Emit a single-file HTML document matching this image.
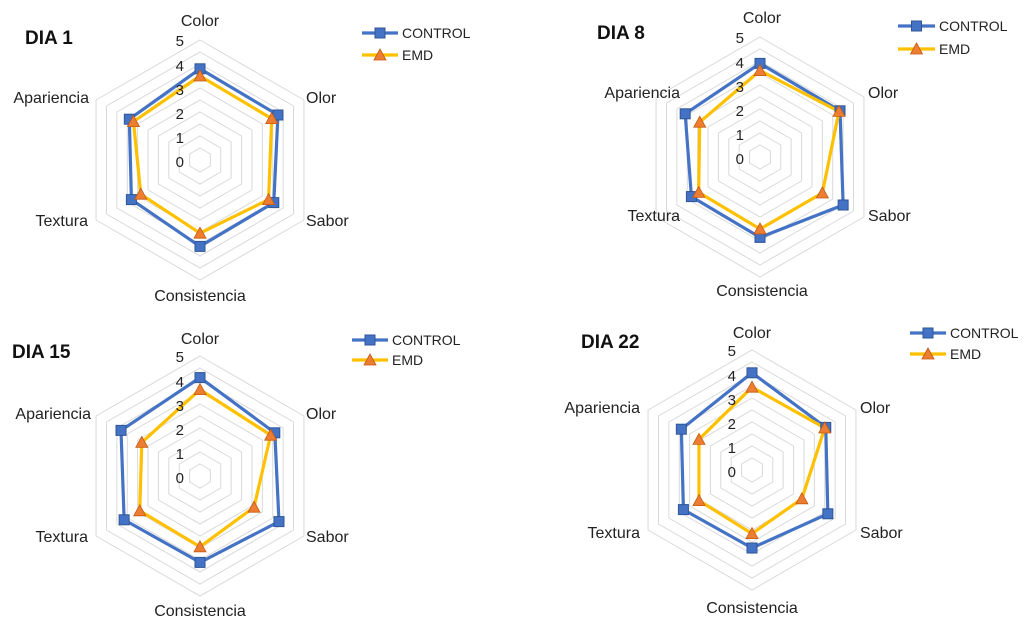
<!DOCTYPE html>
<html><head><meta charset="utf-8"><style>
body{margin:0;background:#fff;}
svg{display:block;font-family:"Liberation Sans",sans-serif;}
.ax{font-size:16px;fill:#222;}
.n{font-size:15px;fill:#222;text-anchor:end;}
.t{font-size:19px;font-weight:bold;fill:#111;}
.lg{font-size:14px;fill:#222;}
</style></head><body>
<svg id="s" width="1023" height="622" viewBox="0 0 1023 622" xmlns="http://www.w3.org/2000/svg">
<g id="g"></g>
<!-- Chart 1 -->
<text class="t" x="25" y="44">DIA 1</text>
<text class="ax" x="200" y="26" text-anchor="middle">Color</text>
<text class="ax" x="306" y="103">Olor</text>
<text class="ax" x="306" y="226">Sabor</text>
<text class="ax" x="200" y="301" text-anchor="middle">Consistencia</text>
<text class="ax" x="88" y="226" text-anchor="end">Textura</text>
<text class="ax" x="89" y="103" text-anchor="end">Apariencia</text>
<g class="nums" data-x="184" data-y="160"></g>
<text class="lg" x="402" y="38">CONTROL</text>
<text class="lg" x="402" y="60">EMD</text>
<!-- Chart 2 -->
<text class="t" x="597" y="39">DIA 8</text>
<text class="ax" x="762" y="23" text-anchor="middle">Color</text>
<text class="ax" x="868" y="98">Olor</text>
<text class="ax" x="868" y="221">Sabor</text>
<text class="ax" x="762" y="296" text-anchor="middle">Consistencia</text>
<text class="ax" x="680" y="221" text-anchor="end">Textura</text>
<text class="ax" x="680" y="98" text-anchor="end">Apariencia</text>
<text class="lg" x="939" y="31">CONTROL</text>
<text class="lg" x="939" y="54">EMD</text>
<!-- Chart 3 -->
<text class="t" x="12" y="358">DIA 15</text>
<text class="ax" x="200" y="344" text-anchor="middle">Color</text>
<text class="ax" x="306" y="419">Olor</text>
<text class="ax" x="306" y="542">Sabor</text>
<text class="ax" x="200" y="616" text-anchor="middle">Consistencia</text>
<text class="ax" x="88" y="542" text-anchor="end">Textura</text>
<text class="ax" x="91" y="419" text-anchor="end">Apariencia</text>
<text class="lg" x="392" y="345">CONTROL</text>
<text class="lg" x="392" y="365">EMD</text>
<!-- Chart 4 -->
<text class="t" x="581" y="348">DIA 22</text>
<text class="ax" x="752" y="338" text-anchor="middle">Color</text>
<text class="ax" x="860" y="413">Olor</text>
<text class="ax" x="860" y="538">Sabor</text>
<text class="ax" x="752" y="613" text-anchor="middle">Consistencia</text>
<text class="ax" x="640" y="538" text-anchor="end">Textura</text>
<text class="ax" x="640" y="413" text-anchor="end">Apariencia</text>
<text class="lg" x="950" y="338">CONTROL</text>
<text class="lg" x="950" y="359">EMD</text>
<!-- numbers -->
<g class="n">
<text x="184" y="46">5</text><text x="184" y="71">4</text><text x="184" y="95">3</text><text x="184" y="119">2</text><text x="184" y="143">1</text><text x="184" y="167">0</text>
<text x="744" y="43">5</text><text x="744" y="68">4</text><text x="744" y="92">3</text><text x="744" y="116">2</text><text x="744" y="140">1</text><text x="744" y="164">0</text>
<text x="184" y="362">5</text><text x="184" y="387">4</text><text x="184" y="411">3</text><text x="184" y="435">2</text><text x="184" y="459">1</text><text x="184" y="483">0</text>
<text x="736" y="356">5</text><text x="736" y="381">4</text><text x="736" y="405">3</text><text x="736" y="429">2</text><text x="736" y="453">1</text><text x="736" y="477">0</text>
</g>
</svg>
<script>
var NS="http://www.w3.org/2000/svg",g=document.getElementById("g");
function el(t,a){var e=document.createElementNS(NS,t);for(var k in a)e.setAttribute(k,a[k]);g.appendChild(e);return e;}
function pts(cx,cy,vals){return vals.map(function(v,i){var a=-Math.PI/2+i*Math.PI/3,r=v*24;return [cx+r*Math.cos(a),cy+r*Math.sin(a)];});}
function sq(x,y){el("rect",{x:x-5,y:y-5,width:10,height:10,fill:"#4472C4",stroke:"#2F5597","stroke-width":1});}
function tri(x,y){el("polygon",{points:(x)+","+(y-6)+" "+(x-6)+","+(y+5)+" "+(x+6)+","+(y+5),fill:"#ED7D31",stroke:"#C55A11","stroke-width":0.8});}
var charts=[
 [200,160,[3.8,3.75,3.55,3.6,3.3,3.4],[3.5,3.45,3.3,3.05,2.85,3.2],[362,398,33,55]],
 [760,157,[3.9,3.85,4.0,3.35,3.3,3.6],[3.6,3.8,3.0,3.0,2.95,2.9],[898,935,26,49]],
 [200,476,[4.1,3.6,3.8,3.6,3.65,3.8],[3.6,3.4,2.6,2.95,2.9,2.8],[352,388,340,360]],
 [752,470,[4.05,3.55,3.65,3.25,3.3,3.4],[3.45,3.5,2.4,2.65,2.55,2.55],[910,946,333,354]]];
charts.forEach(function(c){
 var cx=c[0],cy=c[1];
 for(var k=1;k<=10;k++){var p=pts(cx,cy,[0,0,0,0,0,0].map(function(){return k*0.5;}));
  el("polygon",{points:p.map(function(q){return q.join(",");}).join(" "),fill:"none",stroke:"#d9d9d9","stroke-width":1});}
 var pc=pts(cx,cy,c[2]),pe=pts(cx,cy,c[3]);
 el("polygon",{points:pc.map(function(q){return q.join(",");}).join(" "),fill:"none",stroke:"#4472C4","stroke-width":3.2,"stroke-linejoin":"round"});
 el("polygon",{points:pe.map(function(q){return q.join(",");}).join(" "),fill:"none",stroke:"#FFC000","stroke-width":3.2,"stroke-linejoin":"round"});
 pc.forEach(function(q){sq(q[0],q[1]);});
 pe.forEach(function(q){tri(q[0],q[1]);});
 var L=c[4];
 el("line",{x1:L[0],x2:L[1],y1:L[2],y2:L[2],stroke:"#4472C4","stroke-width":3.2});
 sq((L[0]+L[1])/2,L[2]);
 el("line",{x1:L[0],x2:L[1],y1:L[3],y2:L[3],stroke:"#FFC000","stroke-width":3.2});
 tri((L[0]+L[1])/2,L[3]);
});
</script>
</body></html>
